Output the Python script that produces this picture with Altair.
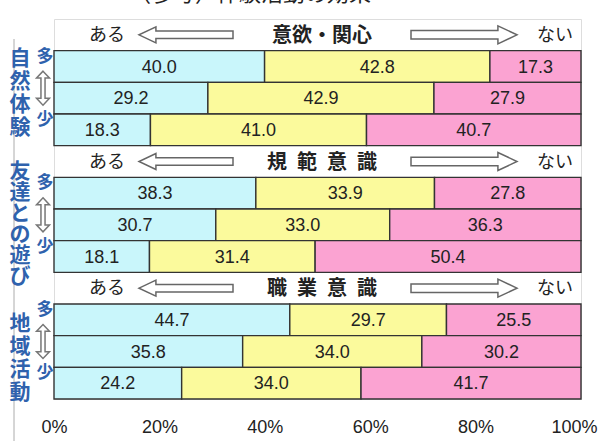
import altair as alt
import pandas as pd

# Survey: effect of experience activities (多 / 中 / 少 amount of experience)
groups = ["自然体験", "友達との遊び", "地域活動"]
themes = ["意欲・関心", "規\u2002範\u2002意\u2002識", "職\u2002業\u2002意\u2002識"]
levels = ["多", "中", "少"]
answers = ["ある", "どちらともいえない", "ない"]
colors = ["#c9f6fb", "#fbfa9c", "#fba3d2"]

nature = [[40.0, 42.8, 17.3], [29.2, 42.9, 27.9], [18.3, 41.0, 40.7]]
friends = [[38.3, 33.9, 27.8], [30.7, 33.0, 36.3], [18.1, 31.4, 50.4]]
community = [[44.7, 29.7, 25.5], [35.8, 34.0, 30.2], [24.2, 34.0, 41.7]]
series = [nature, friends, community]

tick_values = [0, 0.2, 0.4, 0.6, 0.8, 1.0]

# one header slot above each group, then its three rows
slot_order = []
for g in range(len(groups)):
    slot_order.append(f"h{g}")
    slot_order += [f"r{g}{i}" for i in range(len(levels))]

bar_rows = []
for g, table in enumerate(series):
    for i, row in enumerate(table):
        for k, v in enumerate(row):
            bar_rows.append({"slot": f"r{g}{i}", "answer": answers[k], "rank": k, "value": v})
bars_df = pd.DataFrame(bar_rows)

header_df = pd.DataFrame({"slot": [f"h{g}" for g in range(len(groups))], "theme": themes})
level_df = pd.DataFrame([{"slot": f"r{g}{i}", "mark": levels[i]}
                         for g in range(len(groups)) for i in (0, 2)])
middle_df = pd.DataFrame({"slot": [f"r{g}1" for g in range(len(groups))]})

NARROW = "Liberation Sans Narrow, Liberation Sans, Arial, sans-serif"
JP = "Noto Sans CJK JP"

yscale = alt.Scale(domain=slot_order, paddingInner=0, paddingOuter=0)
Y = alt.Y("slot:N", scale=yscale, axis=None)

# the 100% label is kept inside the right edge
last_align = {"condition": {"test": "datum.value === 1", "value": "right"}, "value": "center"}
last_offset = {"condition": {"test": "datum.value === 1", "value": 16}, "value": 0}

bars = alt.Chart(bars_df).mark_bar(stroke="#333333", strokeWidth=1.4).encode(
    x=alt.X("value:Q", stack="normalize",
            scale=alt.Scale(domain=[0, 1], nice=False),
            axis=alt.Axis(values=tick_values, format="%", title=None, domain=False,
                          ticks=False, grid=False, labelFont=NARROW, labelFontSize=18,
                          labelColor="#222222", labelPadding=19, labelFlush=False,
                          labelAlign=last_align, labelOffset=last_offset)),
    y=Y,
    color=alt.Color("answer:N", scale=alt.Scale(domain=answers, range=colors), legend=None),
    order=alt.Order("rank:Q"),
)

labels = alt.Chart(bars_df).transform_stack(
    stack="value", groupby=["slot"], as_=["x0", "x1"], offset="normalize",
    sort=[alt.SortField("rank")]
).transform_calculate(mid="(datum.x0 + datum.x1) / 2").mark_text(
    font=NARROW, fontSize=18, color="#222222", dy=1
).encode(x=alt.X("mid:Q"), y=Y, text=alt.Text("value:Q", format=".1f"))

head = alt.Chart(header_df)
aru = head.mark_text(text="ある", font=JP, fontSize=18, color="#222222", dy=1).encode(
    x=alt.value(53), y=Y)
nai = head.mark_text(text="ない", font=JP, fontSize=18, color="#222222", dy=1).encode(
    x=alt.value(501), y=Y)
theme = head.mark_text(font=JP, fontSize=20, fontWeight="bold", color="#222222", dy=1).encode(
    x=alt.value(268), y=Y, text="theme:N")

left_arrow = "M 1 -0.08 L -0.64 -0.08 L -0.64 -0.17 L -1 0 L -0.64 0.17 L -0.64 0.08 L 1 0.08 Z"
right_arrow = "M -1 -0.08 L 0.64 -0.08 L 0.64 -0.17 L 1 0 L 0.64 0.17 L 0.64 0.08 L -1 0.08 Z"
updown_arrow = ("M 0 -1 L 0.38 -0.6 L 0.12 -0.6 L 0.12 0.6 L 0.38 0.6 L 0 1 "
                "L -0.38 0.6 L -0.12 0.6 L -0.12 -0.6 L -0.38 -0.6 Z")
arrow_l = head.mark_point(shape=left_arrow, size=94 * 94, filled=True, fill="white",
                          stroke="#666666", strokeWidth=1.5, opacity=1).encode(
    x=alt.value(132), y=Y)
arrow_r = head.mark_point(shape=right_arrow, size=106 * 106, filled=True, fill="white",
                          stroke="#666666", strokeWidth=1.5, opacity=1).encode(
    x=alt.value(410), y=Y)
arrow_v = alt.Chart(middle_df).mark_point(shape=updown_arrow, size=34 * 34, filled=True,
                                          fill="white", stroke="#777777", strokeWidth=1.5,
                                          opacity=1, yOffset=-10).encode(
    x=alt.value(-11), y=Y)

# vertical group names, one character per line, centred on each group's middle row
side_layers = []
for g, (name, lh, shift) in enumerate(zip(groups, [23, 21, 23], [-5, 0, 7])):
    n = len(name)
    side_layers.append(
        alt.Chart(pd.DataFrame({"slot": [f"r{g}1"], "label": ["\n".join(list(name))]}))
        .mark_text(font=JP, fontSize=21, fontWeight="bold", color="#2f62ad",
                   lineBreak="\n", lineHeight=lh, dy=-(n - 1) * lh / 2 + shift)
        .encode(x=alt.value(-34), y=Y, text="label:N")
    )

lv = alt.Chart(level_df).mark_text(font=JP, fontSize=17, fontWeight="bold", color="#2f62ad",
                                   dy=-10).encode(x=alt.value(-9), y=Y, text="mark:N")

edge = alt.Chart(header_df).mark_rule(color="#d0d0d0", strokeWidth=1).encode(
    x=alt.value(-40), y=alt.value(20), y2=alt.value(425))

title = alt.Chart(header_df.head(1)).mark_text(
    text="（参考）体験活動の効果", font=JP, fontSize=22, color="#222222").encode(
    x=alt.value(196), y=alt.value(-25))

chart = alt.layer(edge, bars, labels, aru, nai, theme, arrow_l, arrow_r, arrow_v,
                  *side_layers, lv, title).properties(
    width=527, height=380,
    padding={"left": 54, "top": 19, "right": 17, "bottom": 42},
    autosize=alt.AutoSizeParams(type="none"),
).configure_view(stroke=None).configure(background="white")

chart.save("out.html", embed_options={"renderer": "svg", "actions": False})
